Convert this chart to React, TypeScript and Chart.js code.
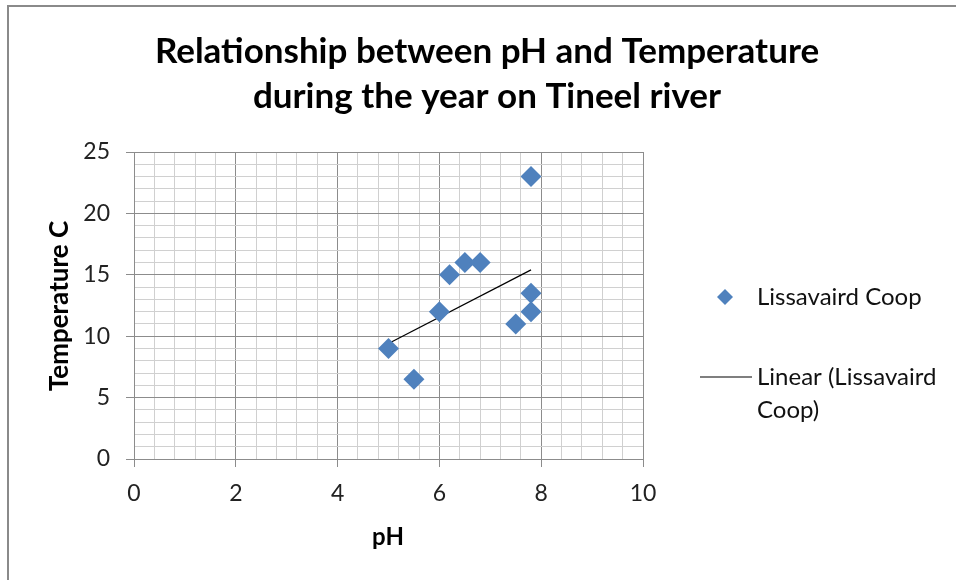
import React, { useEffect, useRef } from 'react';
import { Chart, registerables } from 'chart.js';

Chart.register(...registerables);

// ---- data ----
const phValues = [5, 5.5, 6, 6.2, 6.5, 6.8, 7.5, 7.8, 7.8, 7.8];
const temperatures = [9, 6.5, 12, 15, 16, 16, 11, 12, 13.5, 23];
const trendX = [5, 7.8];
const trendY = [9.4, 15.4];
const xTickLabels = ['0', '2', '4', '6', '8', '10'];
const yTickLabels = ['0', '5', '10', '15', '20', '25'];
const titleLines = ['Relationship between pH and Temperature', 'during the year on Tineel river'];
const xAxisTitle = 'pH';
const yAxisTitle = 'Temperature C';
const seriesName = 'Lissavaird Coop';
const trendNameLines = ['Linear (Lissavaird', 'Coop)'];

const FONT = 'Lato, "Open Sans", "DejaVu Sans", sans-serif';
const BLUE = '#4F81BD';
const MAJOR = '#8c8c8c';
const MINOR = '#d0d0d0';

const isMultiple = (v: number, step: number) => Math.abs(v / step - Math.round(v / step)) < 1e-6;

function drawDiamond(ctx: CanvasRenderingContext2D, x: number, y: number, r: number) {
  ctx.beginPath();
  ctx.moveTo(x, y - r);
  ctx.lineTo(x + r, y);
  ctx.lineTo(x, y + r);
  ctx.lineTo(x - r, y);
  ctx.closePath();
  ctx.fill();
}

const decorPlugin = {
  id: 'decor',
  afterDraw(chart: any) {
    const ctx: CanvasRenderingContext2D = chart.ctx;
    ctx.save();
    // outer border
    ctx.strokeStyle = '#8a8a8a';
    ctx.lineWidth = 2;
    ctx.beginPath();
    ctx.moveTo(8, 580);
    ctx.lineTo(8, 6);
    ctx.lineTo(956, 6);
    ctx.stroke();

    // title
    ctx.fillStyle = '#000';
    ctx.textAlign = 'center';
    ctx.textBaseline = 'middle';
    ctx.font = `bold 35px ${FONT}`;
    ctx.fillText(titleLines[0], 487, 52);
    ctx.fillText(titleLines[1], 487, 97);

    // axis titles
    ctx.font = `bold 24px ${FONT}`;
    ctx.fillText(xAxisTitle, 388, 537);
    ctx.save();
    ctx.translate(60, 306);
    ctx.rotate(-Math.PI / 2);
    ctx.font = `bold 26px ${FONT}`;
    ctx.fillText(yAxisTitle, 0, 0);
    ctx.restore();

    // legend
    ctx.fillStyle = BLUE;
    drawDiamond(ctx, 725, 297, 8);
    ctx.strokeStyle = '#000';
    ctx.lineWidth = 1.2;
    ctx.beginPath();
    ctx.moveTo(700, 377);
    ctx.lineTo(752, 377);
    ctx.stroke();
    ctx.fillStyle = '#111';
    ctx.textAlign = 'left';
    ctx.font = `24px ${FONT}`;
    ctx.fillText(seriesName, 757, 297);
    ctx.fillText(trendNameLines[0], 757, 377);
    ctx.fillText(trendNameLines[1], 757, 410);
    ctx.restore();
  },
};

export default function App() {
  const ref = useRef<HTMLCanvasElement | null>(null);

  useEffect(() => {
    if (!ref.current) return;
    const chart = new Chart(ref.current, {
      type: 'scatter',
      data: {
        datasets: [
          {
            label: seriesName,
            data: phValues.map((x, i) => ({ x, y: temperatures[i] })),
            pointStyle: 'rectRot',
            pointRadius: 10.5,
            pointHoverRadius: 10.5,
            backgroundColor: BLUE,
            borderColor: BLUE,
            borderWidth: 0,
          },
          {
            type: 'line',
            label: trendNameLines.join(' '),
            data: trendX.map((x, i) => ({ x, y: trendY[i] })),
            borderColor: '#000',
            borderWidth: 1.2,
            pointRadius: 0,
            showLine: true,
            fill: false,
          } as any,
        ],
      },
      options: {
        responsive: false,
        animation: false,
        events: [],
        layout: { padding: { left: 0, top: 152, right: 313, bottom: 0 } },
        plugins: { legend: { display: false }, title: { display: false }, tooltip: { enabled: false } },
        scales: {
          x: {
            type: 'linear',
            min: 0,
            max: 10,
            afterFit: (s: any) => { s.height = 121; },
            ticks: {
              stepSize: 0.4,
              autoSkip: false,
              maxRotation: 0,
              padding: 13,
              color: '#222',
              font: { family: FONT, size: 23 },
              callback: (v: any) => (isMultiple(Number(v), 2) ? xTickLabels[Math.round(Number(v) / 2)] : ''),
            },
            grid: {
              color: (c: any) => (isMultiple(c.tick?.value ?? 0, 2) ? MAJOR : MINOR),
              tickColor: (c: any) => (isMultiple(c.tick?.value ?? 0, 2) ? MAJOR : 'rgba(0,0,0,0)'),
              tickLength: 8,
              lineWidth: 1,
            },
            border: { color: MAJOR, width: 1 },
          },
          y: {
            type: 'linear',
            min: 0,
            max: 25,
            afterFit: (s: any) => { s.width = 134; },
            ticks: {
              stepSize: 1,
              autoSkip: false,
              padding: 16,
              color: '#222',
              font: { family: FONT, size: 23 },
              callback: (v: any) => (isMultiple(Number(v), 5) ? yTickLabels[Math.round(Number(v) / 5)] : ''),
            },
            grid: {
              color: (c: any) => (isMultiple(c.tick?.value ?? 0, 5) ? MAJOR : MINOR),
              tickColor: (c: any) => (isMultiple(c.tick?.value ?? 0, 5) ? MAJOR : 'rgba(0,0,0,0)'),
              tickLength: 8,
              lineWidth: 1,
            },
            border: { color: MAJOR, width: 1 },
          },
        },
      },
      plugins: [decorPlugin],
    });
    return () => chart.destroy();
  }, []);

  return (
    <div style={{ position: 'absolute', left: 0, top: 0, width: 956, height: 580, background: '#fff' }}>
      <canvas ref={ref} width={956} height={580} style={{ display: 'block', width: 956, height: 580 }} />
    </div>
  );
}
